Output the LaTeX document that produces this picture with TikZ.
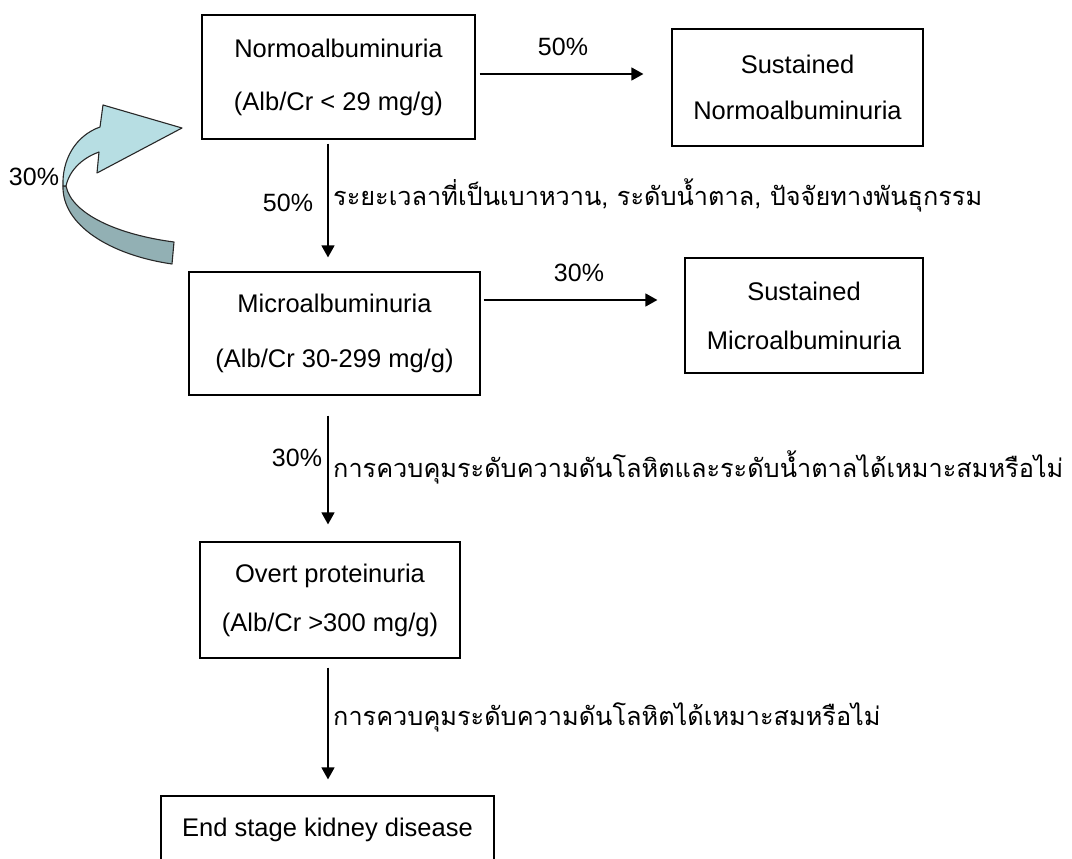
\documentclass[tikz,border=0pt]{standalone}
\usepackage{fontspec}
\setmainfont{Liberation Sans}
\newfontfamily\thaifont[Script=Thai]{Loma}
\usetikzlibrary{arrows.meta}
\definecolor{arrlight}{RGB}{183,222,227}
\definecolor{arrdark}{RGB}{146,176,180}
\definecolor{arredge}{RGB}{40,40,40}
\tikzset{
  stagebox/.style={draw=black, line width=1.2pt, align=center, inner sep=0pt, font=\fontsize{25.5}{#1}\selectfont},
  arr/.style={-{Triangle[length=12pt,width=13pt]}, line width=1.4pt},
  pct/.style={font=\fontsize{25}{30}\selectfont, inner sep=0pt},
  thai/.style={font=\thaifont\fontsize{25.3}{30}\selectfont, anchor=west, inner sep=0pt},
  ribbon/.style={draw=arredge, line width=1.1pt, line join=round},
}
\begin{document}
\begin{tikzpicture}[x=1pt,y=-1pt]
\useasboundingbox (0,0) rectangle (1072,859);
% boxes
\node[stagebox=53, minimum width=273pt, minimum height=124pt] (normo) at (338.5,77) {Normoalbuminuria\\(Alb/Cr < 29 mg/g)};
\node[stagebox=46, minimum width=251pt, minimum height=117pt] (susnormo) at (797.5,87.5) {Sustained\\Normoalbuminuria};
\node[stagebox=55, minimum width=291pt, minimum height=123pt] (micro) at (334.5,333.5) {Microalbuminuria\\(Alb/Cr 30-299 mg/g)};
\node[stagebox=49, minimum width=238pt, minimum height=115pt] (susmicro) at (804,315.5) {Sustained\\Microalbuminuria};
\node[stagebox=49, minimum width=260pt, minimum height=116pt] (overt) at (330,600) {Overt proteinuria\\(Alb/Cr >300 mg/g)};
\node[stagebox=30, minimum width=333pt, minimum height=80pt, text height=18pt, text depth=18pt] (esrd) at (327.5,836) {End stage kidney disease};
% helper coordinates
\coordinate (ax) at (328,0);
\coordinate (h1) at (0,74);
\coordinate (h2) at (0,300);
% connectors
\draw[arr, shorten <=4pt, shorten >=28pt] (normo.east |- h1) -- (susnormo.west |- h1);
\draw[arr, shorten <=3pt, shorten >=27pt] (micro.east |- h2) -- (susmicro.west |- h2);
\draw[arr, shorten <=4pt, shorten >=14pt] (normo.south -| ax) -- (micro.north -| ax);
\draw[arr, shorten <=20pt, shorten >=17pt] (micro.south -| ax) -- (overt.north -| ax);
\draw[arr, shorten <=9pt, shorten >=16pt] (overt.south -| ax) -- (esrd.north -| ax);
% curved 3D arrow
\filldraw[ribbon, fill=arrdark] (63,186) .. controls (62,225) and (110,255) .. (172,264) -- (174,242) .. controls (120,235) and (72,215) .. (66,186) -- cycle;
\filldraw[ribbon, fill=arrlight] (63,186) .. controls (62,160) and (75,136) .. (100,127) -- (103,105) -- (182,128) -- (97,173) -- (99,152) .. controls (85,157) and (70,168) .. (66,186) -- cycle;
% labels
\node[pct] (l50a) at (563,47) {50\%};
\node[pct] (l50b) at (288,203) {50\%};
\node[pct] (l30a) at (34,177) {30\%};
\node[pct] (l30b) at (579,273) {30\%};
\node[pct] (l30c) at (297,458) {30\%};
\node[thai] (t1) at (333,195) {ระยะเวลาที่เป็นเบาหวาน, ระดับน้ำตาล, ปัจจัยทางพันธุกรรม};
\node[thai] (t2) at (333,467) {การควบคุมระดับความดันโลหิตและระดับน้ำตาลได้เหมาะสมหรือไม่};
\node[thai] (t3) at (333,717) {การควบคุมระดับความดันโลหิตได้เหมาะสมหรือไม่};
\end{tikzpicture}
\end{document}
